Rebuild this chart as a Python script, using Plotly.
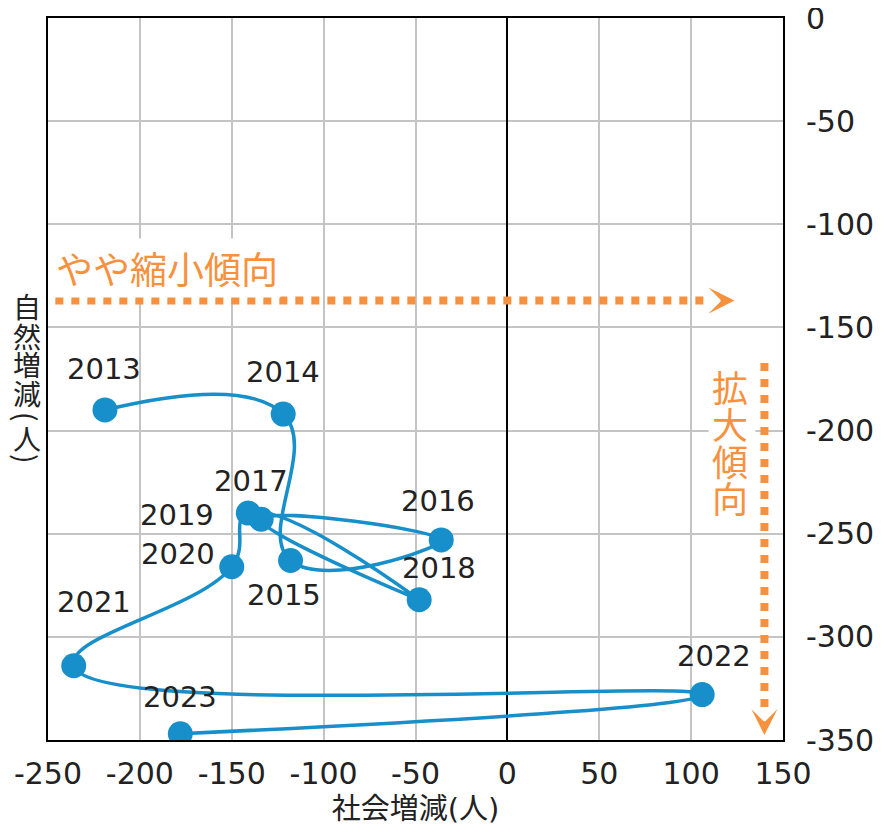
import plotly.graph_objects as go

# ---- data ----
years = ["2013", "2014", "2015", "2016", "2017", "2018", "2019", "2020", "2021", "2022", "2023"]
social = [-219, -122, -118, -36, -134, -48, -141, -150, -236, 106, -178]      # 社会増減
natural = [-190, -192, -263, -253, -243, -282, -240, -266, -314, -328, -347]  # 自然増減

x_ticks = [-250, -200, -150, -100, -50, 0, 50, 100, 150]
y_ticks = [0, -50, -100, -150, -200, -250, -300, -350]

x_title = "社会増減(人)"
y_title_chars = ["自", "然", "増", "減", "(", "人", ")"]
h_note = "やや縮小傾向"
v_note_chars = ["拡", "大", "傾", "向"]

# ---- styles ----
BLUE = "#168fca"
ORANGE = "#f7913d"
NUM_FONT = "DejaVu Sans, Noto Sans CJK JP"
JP_FONT = "Noto Sans CJK JP"

# label offsets (pixels) for year labels
label_shift = {
    "2013": (-1, 41), "2014": (0, 42), "2015": (-7, -34), "2016": (-3, 39),
    "2017": (-10, 38), "2018": (20, 32), "2019": (-71, -2), "2020": (-54, 13),
    "2021": (20, 64), "2022": (12, 39), "2023": (0, 37),
}

fig = go.Figure()
fig.add_trace(go.Scatter(
    x=social, y=natural, mode="lines+markers",
    line=dict(color=BLUE, width=3.5, shape="spline", smoothing=1.3),
    marker=dict(color=BLUE, size=25),
    hoverinfo="skip", showlegend=False,
))

annotations = []
for yr, xv, yv in zip(years, social, natural):
    dx, dy = label_shift[yr]
    annotations.append(dict(
        x=xv, y=yv, text=yr, showarrow=False, xshift=dx, yshift=dy,
        font=dict(family=NUM_FONT, size=29, color="#222222"),
    ))

# horizontal trend note
H_Y = -137
annotations.append(dict(
    x=-185.5, y=-121, text=h_note, showarrow=False,
    font=dict(family=JP_FONT, size=37, color=ORANGE),
    bgcolor="white", borderpad=2,
))
annotations.append(dict(
    x=123.6, y=H_Y, ax=-14, ay=0, text=" ", showarrow=True,
    font=dict(size=2), borderpad=0,
    arrowhead=3, arrowsize=1.45, arrowwidth=3, arrowcolor=ORANGE,
))
# vertical trend note
V_X = 139.9
for i, ch in enumerate(v_note_chars):
    annotations.append(dict(
        x=121.3, y=-178.3, yshift=-37 * i, text=ch, showarrow=False,
        xanchor="center", yanchor="middle",
        font=dict(family=JP_FONT, size=36, color=ORANGE),
    ))
annotations.append(dict(
    x=V_X, y=-347.6, ax=0, ay=-14, text=" ", showarrow=True,
    font=dict(size=2), borderpad=0,
    arrowhead=3, arrowsize=1.45, arrowwidth=3, arrowcolor=ORANGE,
))

# y-axis title (stacked vertically)
y_title_px = [306, 336, 364, 393, 416, 438, 458]
for ch, py in zip(y_title_chars, y_title_px):
    rot = 90 if ch in "()" else 0
    annotations.append(dict(
        xref="paper", yref="paper", x=0, y=1 - (py - 18) / 722,
        xanchor="center", yanchor="middle",
        xshift=-21, text=ch, showarrow=False, textangle=rot,
        font=dict(family=JP_FONT, size=28, color="#222222"),
    ))

shapes = [
    # white backing behind vertical note (hides grid, below data)
    dict(type="rect", x0=109.5, x1=135, y0=-244.3, y1=-166.7, layer="between",
         fillcolor="white", line=dict(width=0)),
    dict(type="line", x0=-246, x1=110.6, y0=H_Y, y1=H_Y,
         line=dict(color=ORANGE, width=8, dash="dot")),
    dict(type="line", x0=V_X, x1=V_X, y0=-167.2, y1=-336.4,
         line=dict(color=ORANGE, width=8, dash="dot")),
]

# page body has an 8px default margin, so the figure is sized to fit the window
fig.update_layout(
    width=877, height=824,
    margin=dict(l=40, r=102, t=10, b=92, autoexpand=False),
    paper_bgcolor="white", plot_bgcolor="white",
    annotations=annotations, shapes=shapes,
    xaxis=dict(
        range=[-250, 150], tickvals=x_ticks, ticktext=[str(v) for v in x_ticks],
        automargin=False, ticklabeloverflow="allow",
        showgrid=True, gridcolor="#c4c4c4", gridwidth=2,
        zeroline=True, zerolinecolor="black", zerolinewidth=2,
        showline=True, linecolor="black", linewidth=2, mirror=True,
        ticks="outside", ticklen=6, tickcolor="rgba(0,0,0,0)",
        tickfont=dict(family=NUM_FONT, size=30, color="#222222"),
        title=dict(text=x_title, font=dict(family=NUM_FONT, size=29, color="#222222"), standoff=9),
    ),
    yaxis=dict(
        range=[-350, 0], tickvals=y_ticks, ticktext=[str(v) for v in y_ticks],
        side="right", automargin=False, ticklabeloverflow="allow",
        showgrid=True, gridcolor="#c4c4c4", gridwidth=2,
        zeroline=False,
        showline=True, linecolor="black", linewidth=2, mirror=True,
        ticks="outside", ticklen=15, tickcolor="rgba(0,0,0,0)",
        tickfont=dict(family=NUM_FONT, size=30, color="#222222"),
    ),
)

fig.write_html("out.html")
